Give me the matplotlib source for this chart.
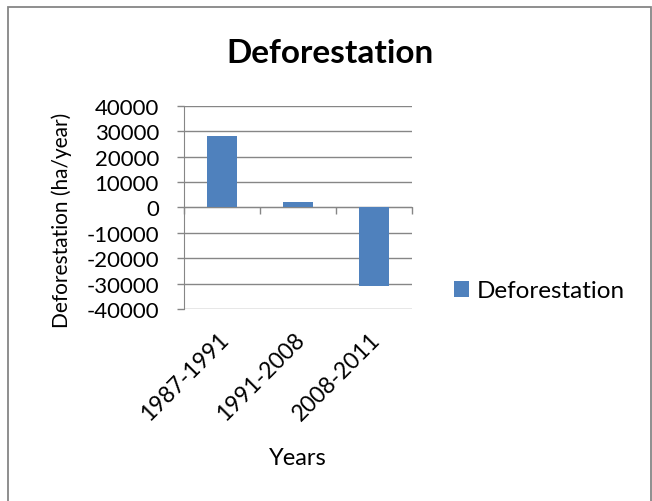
import matplotlib
matplotlib.use("Agg")
import matplotlib.pyplot as plt
import matplotlib.patches as patches
import numpy as np

# data
periods = ['1987-1991', '1991-2008', '2008-2011']
deforestation = [28000, 2000, -31000]
y_ticks = [-40000, -30000, -20000, -10000, 0, 10000, 20000, 30000, 40000]

plt.rcParams['font.family'] = ['Lato', 'DejaVu Sans']

grey = '#868686'
bar_color = '#4F81BD'

fig = plt.figure(figsize=(6.52, 5.02), dpi=100)
ax = fig.add_axes([0.2822, 0.3825, 0.3492, 0.405])

x = np.arange(len(periods))
ax.bar(x, deforestation, width=0.4, color=bar_color, label='Deforestation', zorder=3)

ax.set_xlim(-0.5, len(periods) - 0.5)
ax.set_ylim(y_ticks[0], y_ticks[-1])
ax.set_yticks(y_ticks)
ax.set_yticklabels([str(v) for v in y_ticks])
ax.yaxis.grid(True, color=grey, linewidth=1.0, zorder=0)
ax.set_axisbelow(True)

# category axis sits on the zero line, with ticks between the categories
ax.spines['bottom'].set_position(('data', 0))
ax.spines['bottom'].set_color(grey)
ax.spines['left'].set_color(grey)
ax.spines['top'].set_visible(False)
ax.spines['right'].set_visible(False)
ax.set_xticks(np.arange(len(periods) + 1) - 0.5)
ax.set_xticklabels([])
ax.tick_params(axis='x', direction='out', length=5, color=grey, width=1)
ax.tick_params(axis='y', direction='out', length=5, color=grey, width=1,
               labelsize=16, pad=13)

# category labels below the plot area, rotated like Excel
for i, p in enumerate(periods):
    ax.text(i + 0.04, -0.13, p, transform=ax.get_xaxis_transform(),
            rotation=45, rotation_mode='anchor', ha='right', va='center',
            fontsize=16.5)

fig.text(330 / 652, 1 - 63.3 / 502, 'Deforestation', ha='center', va='baseline',
         fontsize=24, fontweight='bold')
fig.text(62 / 652, 1 - 220 / 502, 'Deforestation (ha/year)', rotation=90,
         ha='center', va='center', fontsize=15)
fig.text(297.5 / 652, 1 - 465 / 502, 'Years', ha='center', va='baseline', fontsize=17)

ax.legend(loc='center left', bbox_to_anchor=(454 / 652, 1 - 292 / 502),
          bbox_transform=fig.transFigure, frameon=False, fontsize=17.5,
          borderpad=0, borderaxespad=0, handlelength=0.6, handleheight=0.6,
          handletextpad=0.35)

# chart border
fig.patches.append(patches.Rectangle((8 / 652, -0.02), 643 / 652, 1 - 8 / 502 + 0.02,
                                     transform=fig.transFigure, fill=False,
                                     edgecolor=grey, linewidth=1.3))

fig.savefig('out.png', dpi=100)
